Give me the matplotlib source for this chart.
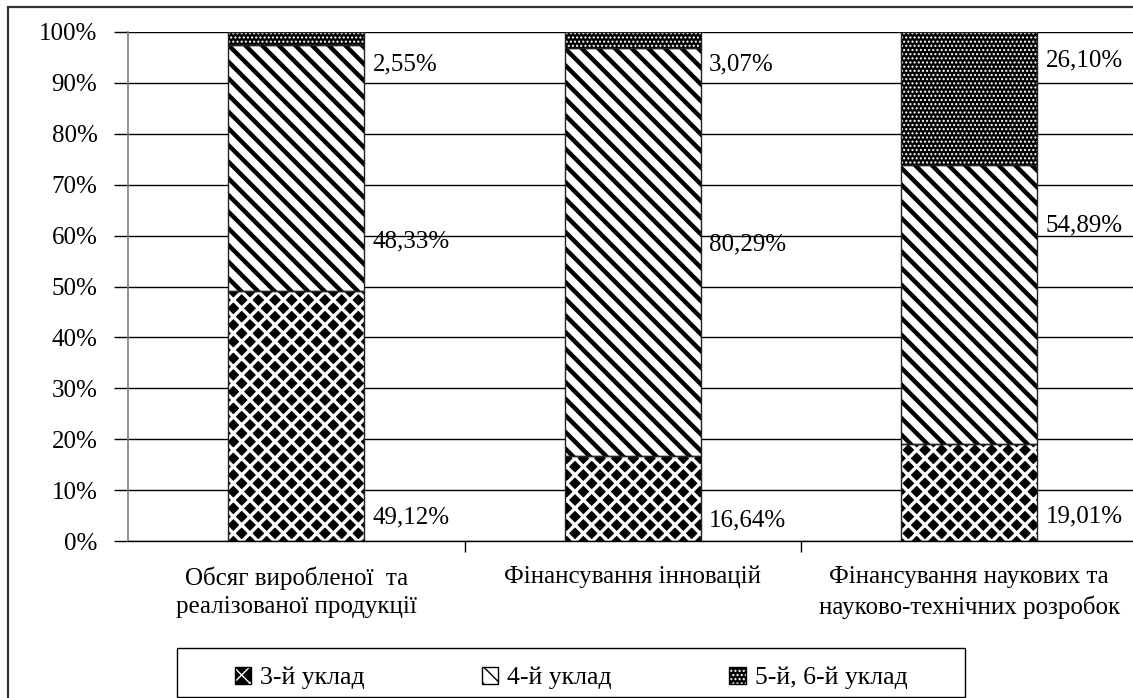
import matplotlib
matplotlib.use('Agg')
import matplotlib.pyplot as plt
from matplotlib.patches import Patch, Rectangle
from matplotlib.ticker import MultipleLocator, FixedLocator, PercentFormatter

plt.rcParams['font.family'] = ['Liberation Serif', 'DejaVu Serif']

categories = ['Обсяг виробленої  та\nреалізованої продукції',
              'Фінансування інновацій',
              'Фінансування наукових та\nнауково-технічних розробок']
series_names = ['3-й уклад', '4-й уклад', '5-й, 6-й уклад']
uklad3 = [49.12, 16.64, 19.01]
uklad4 = [48.33, 80.29, 54.89]
uklad56 = [2.55, 3.07, 26.10]
label_texts = [['49,12%', '16,64%', '19,01%'],
               ['48,33%', '80,29%', '54,89%'],
               ['2,55%', '3,07%', '26,10%']]
# where the value labels sit (baseline, % of axis)
label_y = [[3.4, 2.8, 3.6],
           [57.6, 57.1, 60.8],
           [92.4, 92.4, 93.2]]

W, H = 1133, 698
fig = plt.figure(figsize=(W / 100, H / 100), dpi=100)
ax = fig.add_axes([128 / W, 1 - 541 / H, 1009.5 / W, 509 / H])

x = range(len(categories))
bw = 0.405
fs = 18

# face colour, hatch colour, hatch, hatch width
styles = [('black', 'white', 'xx', 2.4),
          ('white', 'black', '\\\\', 3.2),
          ('black', 'white', '....', 1.0)]

bottoms = [0, 0, 0]
handles = []
for vals, (fc, hc, hatch, hlw) in zip([uklad3, uklad4, uklad56], styles):
    with plt.rc_context({'hatch.linewidth': hlw}):
        bars = ax.bar(x, vals, bw, bottom=bottoms, color=fc, edgecolor=hc,
                      hatch=hatch, linewidth=0, zorder=2)
        for b in bars:
            if hasattr(b, 'set_hatch_linewidth'):
                b.set_hatch_linewidth(hlw)
        hp = Patch(facecolor=fc, edgecolor=hc, hatch=hatch, linewidth=0)
        if hasattr(hp, 'set_hatch_linewidth'):
            hp.set_hatch_linewidth(hlw)
    ax.bar(x, vals, bw, bottom=bottoms, fill=False, edgecolor='#222222',
           linewidth=1.0, zorder=3)
    op = Patch(facecolor='none', edgecolor='black', linewidth=1.0)
    handles.append((hp, op))
    bottoms = [b + v for b, v in zip(bottoms, vals)]

for row_txt, row_y in zip(label_texts, label_y):
    for i, (t, y) in enumerate(zip(row_txt, row_y)):
        ax.text(i + bw / 2 + 0.024, y, t, fontsize=fs, va='baseline', ha='left')

ax.set_xlim(-0.5, 2.5)
ax.set_ylim(0, 100)
ax.yaxis.set_major_locator(MultipleLocator(10))
ax.yaxis.set_major_formatter(PercentFormatter(decimals=0))
ax.grid(axis='y', color='black', linewidth=1.0, zorder=1)
ax.set_axisbelow(True)

ax.set_xticks(list(x))
ax.set_xticklabels(categories, fontsize=fs, linespacing=1.38, va='top')
ax.xaxis.set_minor_locator(FixedLocator([0.5, 1.5]))
ax.tick_params(axis='x', which='major', length=0, pad=18)
ax.tick_params(axis='x', which='minor', length=8, width=1, direction='out')
ax.tick_params(axis='y', length=10, width=1, pad=12, labelsize=fs)

for s in ['top', 'right']:
    ax.spines[s].set_visible(False)
ax.spines['left'].set_color('#808080')
ax.spines['left'].set_linewidth(1.2)
ax.spines['bottom'].set_color('black')
ax.spines['bottom'].set_linewidth(1.0)

# outer frame of the picture
fig.patches.append(Rectangle((8 / W, -0.05), 1.2, 1.05 - 7 / H, transform=fig.transFigure,
                             fill=False, edgecolor='#333333', linewidth=1.6))
# legend box
fig.patches.append(Rectangle((177 / W, 1 / H), 788 / W, 49 / H, transform=fig.transFigure,
                             fill=False, edgecolor='black', linewidth=1.0))

leg = fig.legend(handles, series_names, loc='center', ncol=3,
                 bbox_to_anchor=(571 / W, 1 - 678 / H),
                 fontsize=18.5, frameon=False, borderpad=0,
                 handlelength=0.65, handleheight=0.65, handletextpad=0.35,
                 columnspacing=4.55)

fig.savefig('out.png', dpi=100)
